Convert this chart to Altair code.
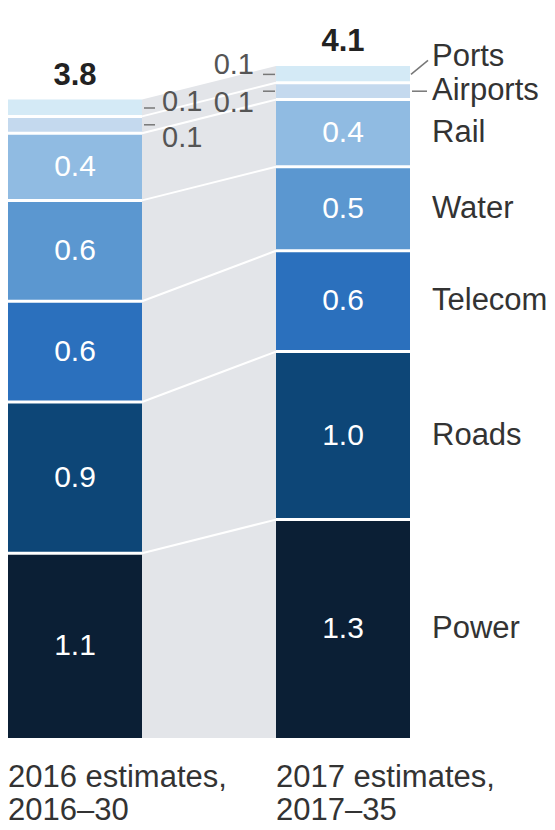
import altair as alt
import pandas as pd

# Stack order, bottom to top
categories = ["Power", "Roads", "Telecom", "Water", "Rail", "Airports", "Ports"]
period_labels = ["2016 estimates,\n2016–30", "2017 estimates,\n2017–35"]
values_2016 = [1.1, 0.9, 0.6, 0.6, 0.4, 0.1, 0.1]
values_2017 = [1.3, 1.0, 0.6, 0.5, 0.4, 0.1, 0.1]
totals = ["3.8", "4.1"]
colors = ["#0b1f35", "#0d4677", "#2b70bd", "#5b97d0", "#90bbe2", "#c4d9ee", "#d4eaf6"]

FONT = "Liberation Sans"
GRAY_BAND = "#e3e5e9"
TEXT_SIZE = 31

# Long table of stacked segments; bar i occupies x in [2i, 2i+1]
rows = []
for slot, vals in enumerate([values_2016, values_2017]):
    base = 0.0
    for cat, v in zip(categories, vals):
        rows.append(dict(slot=slot, x0=2 * slot, x1=2 * slot + 1, xm=2 * slot + 0.5,
                         category=cat, value=v, y0=base, y1=base + v,
                         mid=base + v / 2, label=f"{v:.1f}"))
        base += v
seg = pd.DataFrame(rows)

tops = seg.groupby("slot")["y1"].max().tolist()
band = pd.DataFrame({"x": [1, 2], "top": tops, "zero": [0, 0]})
heads = pd.DataFrame({"xm": [0.5, 2.5], "top": tops, "total": totals})
periods = pd.DataFrame({"x0": [0, 2], "zero": [0, 0], "text": period_labels})

# Boundaries between segments, joined from one bar to the next
left = seg[seg.slot == 0].reset_index(drop=True)
right = seg[seg.slot == 1].reset_index(drop=True)
links = pd.DataFrame({"xa": 1, "xb": 2, "yl": left.y1[:-1].values, "yr": right.y1[:-1].values})

x_scale = alt.Scale(domain=[0, 3], nice=False, zero=False)
y_scale = alt.Scale(domain=[0, 738 / 168], nice=False, zero=False)


def X(f):
    return alt.X(f, type="quantitative", scale=x_scale, axis=None)


def Y(f):
    return alt.Y(f, type="quantitative", scale=y_scale, axis=None)


band_layer = alt.Chart(band).mark_area(color=GRAY_BAND, interpolate="linear").encode(
    x=X("x"), y=Y("top"), y2="zero"
)

link_layer = alt.Chart(links).mark_rule(color="white", strokeWidth=2).encode(
    x=X("xa"), x2="xb", y=Y("yl"), y2="yr"
)

bars = alt.Chart(seg).mark_rect().encode(
    x=X("x0"), x2="x1", y=Y("y0"), y2="y1",
    color=alt.Color("category:N", scale=alt.Scale(domain=categories, range=colors), legend=None),
)

separators = alt.Chart(seg).transform_filter("datum.category != 'Ports'").mark_rule(
    color="white", strokeWidth=3
).encode(x=X("x0"), x2="x1", y=Y("y1"))

inside = alt.Chart(seg).transform_filter("datum.value >= 0.3").mark_text(
    font=FONT, fontSize=30, color="white", baseline="middle"
).encode(x=X("xm"), y=Y("mid"), text="label")

small = seg[seg.category.isin(["Ports", "Airports"])]
small_base = alt.Chart(small)

# Dashes and values for the two thin segments, right of the first bar
left_dash = small_base.transform_filter("datum.slot == 0").mark_rule(
    color="#777777", strokeWidth=1.5, xOffset=2, x2Offset=13
).encode(x=X("x1"), x2="x1", y=Y("mid"))
left_ports = small_base.transform_filter("datum.slot == 0 && datum.category == 'Ports'").mark_text(
    font=FONT, fontSize=29, color="#555555", align="left", baseline="middle", dx=20, dy=-6
).encode(x=X("x1"), y=Y("mid"), text="label")
left_air = small_base.transform_filter("datum.slot == 0 && datum.category == 'Airports'").mark_text(
    font=FONT, fontSize=29, color="#555555", align="left", baseline="middle", dx=20, dy=13
).encode(x=X("x1"), y=Y("mid"), text="label")

# ... and left of the second bar
right_dash = small_base.transform_filter("datum.slot == 1").mark_rule(
    color="#777777", strokeWidth=1.5, xOffset=-13, x2Offset=-1
).encode(x=X("x0"), x2="x0", y=Y("mid"))
right_ports = small_base.transform_filter("datum.slot == 1 && datum.category == 'Ports'").mark_text(
    font=FONT, fontSize=29, color="#555555", align="right", baseline="middle", dx=-22, dy=-9
).encode(x=X("x0"), y=Y("mid"), text="label")
right_air = small_base.transform_filter("datum.slot == 1 && datum.category == 'Airports'").mark_text(
    font=FONT, fontSize=29, color="#555555", align="right", baseline="middle", dx=-22, dy=12
).encode(x=X("x0"), y=Y("mid"), text="label")

# Category names beside the second bar
names_base = alt.Chart(right)
names = names_base.transform_filter("datum.category != 'Ports'").mark_text(
    font=FONT, fontSize=TEXT_SIZE, color="#333333", align="left", baseline="middle", dx=22
).encode(x=X("x1"), y=Y("mid"), text="category")
ports_name = names_base.transform_filter("datum.category == 'Ports'").mark_text(
    font=FONT, fontSize=TEXT_SIZE, color="#333333", align="left", baseline="middle", dx=22, dy=-17
).encode(x=X("x1"), y=Y("mid"), text="category")
air_leader = names_base.transform_filter("datum.category == 'Airports'").mark_rule(
    color="#777777", strokeWidth=1.5, xOffset=2, x2Offset=17
).encode(x=X("x1"), x2="x1", y=Y("mid"))
ports_leader = names_base.transform_filter("datum.category == 'Ports'").mark_rule(
    color="#777777", strokeWidth=1.5, xOffset=1, x2Offset=18, y2Offset=-14
).encode(x=X("x1"), x2="x1", y=Y("mid"), y2="mid")

total_labels = alt.Chart(heads).mark_text(
    font=FONT, fontSize=TEXT_SIZE, fontWeight="bold", color="#222222", baseline="alphabetic", dy=-15
).encode(x=X("xm"), y=Y("top"), text="total")

period_text = alt.Chart(periods).mark_text(
    font=FONT, fontSize=TEXT_SIZE, color="#333333", align="left", baseline="top",
    dy=25, lineBreak="\n", lineHeight=33
).encode(x=X("x0"), y=Y("zero"), text="text")

chart = alt.layer(
    band_layer, link_layer, bars, separators, inside,
    left_dash, left_ports, left_air, right_dash, right_ports, right_air,
    names, ports_name, air_leader, ports_leader, total_labels, period_text,
).properties(
    width=402, height=738,
    background="white",
    autosize=alt.AutoSizeParams(type="none"),
    padding={"left": 8, "right": 145, "top": 0, "bottom": 92},
).configure_view(strokeWidth=0)

chart.save("out.html", embed_options={"renderer": "svg", "actions": False})
